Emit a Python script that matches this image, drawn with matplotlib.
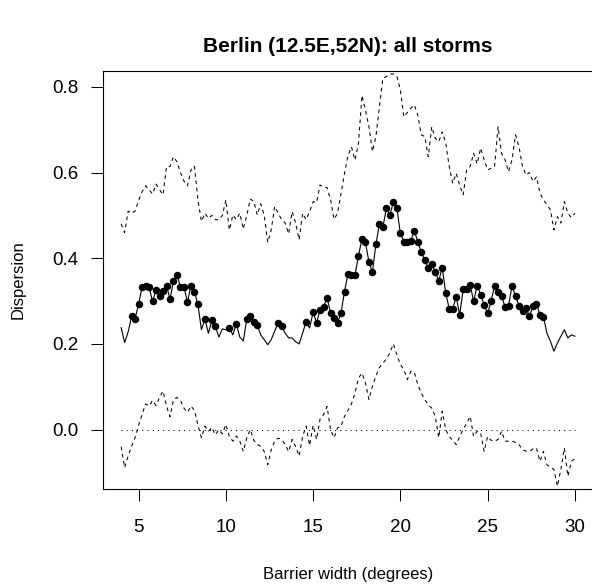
import numpy as np
import matplotlib
matplotlib.use("Agg")
import matplotlib.pyplot as plt

# Barrier widths: 4.0 to 30.0 in steps of 0.2 degrees (131 points)
barrier_width = [round(4.0 + 0.2 * k, 1) for k in range(131)]

dispersion = [
    0.238, 0.203, 0.228, 0.264, 0.259, 0.293, 0.333, 0.335, 0.333, 0.299,
    0.326, 0.312, 0.324, 0.336, 0.305, 0.346, 0.362, 0.332, 0.332, 0.298,
    0.336, 0.322, 0.292, 0.233, 0.258, 0.225, 0.255, 0.241, 0.216, 0.235,
    0.233, 0.238, 0.221, 0.247, 0.216, 0.207, 0.258, 0.264, 0.252, 0.245,
    0.221, 0.210, 0.198, 0.210, 0.230, 0.249, 0.241, 0.225, 0.214, 0.214,
    0.205, 0.200, 0.225, 0.252, 0.237, 0.274, 0.249, 0.280, 0.287, 0.307,
    0.273, 0.260, 0.249, 0.272, 0.322, 0.364, 0.360, 0.360, 0.406, 0.445,
    0.437, 0.391, 0.368, 0.433, 0.479, 0.473, 0.517, 0.501, 0.531, 0.518,
    0.458, 0.439, 0.439, 0.441, 0.464, 0.439, 0.414, 0.396, 0.378, 0.386,
    0.368, 0.347, 0.378, 0.319, 0.282, 0.282, 0.310, 0.268, 0.327, 0.328,
    0.338, 0.299, 0.336, 0.315, 0.291, 0.272, 0.299, 0.336, 0.320, 0.311,
    0.287, 0.289, 0.336, 0.311, 0.289, 0.276, 0.284, 0.264, 0.289, 0.294,
    0.268, 0.263, 0.225, 0.206, 0.183, 0.202, 0.218, 0.233, 0.214, 0.221,
    0.218,
]

# 1 = significant point (drawn with a filled circle)
significant = (
    [0, 0, 0] + [1] * 20 + [0, 1, 0, 1, 1, 0, 0, 0, 1, 0, 1, 0, 0, 1, 1, 1, 1]
    + [0] * 5 + [1, 1] + [0] * 6 + [1, 0] + [1] * 67 + [0] * 9
)

upper = [
    0.480, 0.460, 0.510, 0.505, 0.510, 0.535, 0.555, 0.569, 0.560, 0.550,
    0.573, 0.560, 0.548, 0.614, 0.614, 0.637, 0.625, 0.600, 0.580, 0.569,
    0.606, 0.615, 0.536, 0.486, 0.505, 0.493, 0.500, 0.490, 0.490, 0.500,
    0.536, 0.466, 0.501, 0.490, 0.505, 0.468, 0.500, 0.538, 0.533, 0.501,
    0.527, 0.500, 0.437, 0.466, 0.521, 0.505, 0.490, 0.482, 0.457, 0.509,
    0.482, 0.443, 0.505, 0.490, 0.509, 0.532, 0.530, 0.571, 0.566, 0.565,
    0.537, 0.491, 0.505, 0.552, 0.598, 0.640, 0.660, 0.629, 0.668, 0.780,
    0.745, 0.707, 0.649, 0.684, 0.754, 0.820, 0.824, 0.830, 0.830, 0.825,
    0.793, 0.730, 0.740, 0.750, 0.758, 0.734, 0.688, 0.684, 0.637, 0.707,
    0.680, 0.672, 0.695, 0.669, 0.614, 0.575, 0.598, 0.570, 0.548, 0.606,
    0.614, 0.645, 0.620, 0.657, 0.630, 0.606, 0.610, 0.614, 0.707, 0.645,
    0.630, 0.602, 0.630, 0.688, 0.660, 0.614, 0.594, 0.600, 0.579, 0.590,
    0.552, 0.536, 0.525, 0.513, 0.466, 0.497, 0.482, 0.532, 0.505, 0.495,
    0.505,
]

lower = [
    -0.040, -0.089, -0.062, -0.039, -0.018, 0.010, 0.035, 0.060, 0.055, 0.068,
    0.056, 0.075, 0.090, 0.055, 0.030, 0.070, 0.075, 0.068, 0.050, 0.040,
    0.055, 0.045, 0.010, -0.019, 0.008, -0.004, 0.005, -0.012, 0.000, -0.010,
    0.012, -0.016, -0.027, -0.015, -0.027, -0.051, -0.019, 0.000, -0.025, -0.035,
    -0.039, -0.051, -0.082, -0.047, -0.027, -0.020, -0.023, -0.035, -0.051, -0.023,
    -0.040, -0.062, -0.016, 0.008, -0.037, 0.010, -0.023, 0.025, 0.035, 0.054,
    0.000, -0.019, 0.004, 0.008, 0.031, 0.045, 0.060, 0.085, 0.120, 0.132,
    0.109, 0.070, 0.101, 0.125, 0.145, 0.155, 0.165, 0.179, 0.200, 0.175,
    0.152, 0.140, 0.117, 0.136, 0.134, 0.105, 0.085, 0.070, 0.058, 0.050,
    0.031, -0.019, 0.043, 0.000, -0.016, -0.025, -0.035, -0.016, 0.000, 0.015,
    0.031, -0.016, -0.004, -0.008, -0.051, -0.016, -0.025, -0.027, -0.023, -0.004,
    -0.027, -0.027, -0.027, -0.030, -0.035, -0.047, -0.050, -0.051, -0.045, -0.043,
    -0.074, -0.051, -0.082, -0.088, -0.093, -0.132, -0.093, -0.043, -0.109, -0.074,
    -0.068,
]

x_ticks = [5, 10, 15, 20, 25, 30]
y_ticks = [0.0, 0.2, 0.4, 0.6, 0.8]
y_tick_labels = ["0.0", "0.2", "0.4", "0.6", "0.8"]

plt.rcParams["font.family"] = ["Liberation Sans", "DejaVu Sans"]

W, H = 592, 585
fig = plt.figure(figsize=(W / 100, H / 100), dpi=100)
ax = fig.add_axes([103 / W, 96.5 / H, (593 - 103) / W, (488.5 - 71) / H])

x = np.array(barrier_width)
mid = np.array(dispersion)
sig = np.array(significant, dtype=bool)

ax.plot(x, upper, color="black", lw=0.75, linestyle=(0, (3.5, 3.5)))
ax.plot(x, lower, color="black", lw=0.75, linestyle=(0, (3.5, 3.5)))
ax.plot([x[0], x[-1]], [0, 0], color="black", lw=0.75, linestyle=(0, (1, 4)))
ax.plot(x, mid, color="black", lw=0.8)
ax.plot(x[sig], mid[sig], "o", color="black", markersize=5.4, markeredgewidth=0)

ax.set_xlim(2.96, 31.04)
ax.set_ylim(-0.1375, 0.837)
ax.set_xticks(x_ticks)
ax.set_xticklabels([str(t) for t in x_ticks])
ax.set_yticks(y_ticks)
ax.set_yticklabels(y_tick_labels)
ax.tick_params(axis="both", direction="out", length=8.6, width=0.75,
               labelsize=13.5, colors="black")
ax.tick_params(axis="x", pad=13.5)
ax.tick_params(axis="y", pad=9)
for s in ax.spines.values():
    s.set_linewidth(0.8)

fig.text(348 / W, 1 - 575 / H, "Barrier width (degrees)",
         ha="center", va="center", fontsize=12)
fig.text(18 / W, 1 - 280 / H, "Dispersion", rotation=90,
         ha="center", va="center", fontsize=12)
fig.text(348 / W, 1 - 47 / H, "Berlin (12.5E,52N): all storms",
         ha="center", va="center", fontsize=15, fontweight="bold")

fig.savefig("out.png", dpi=100)
